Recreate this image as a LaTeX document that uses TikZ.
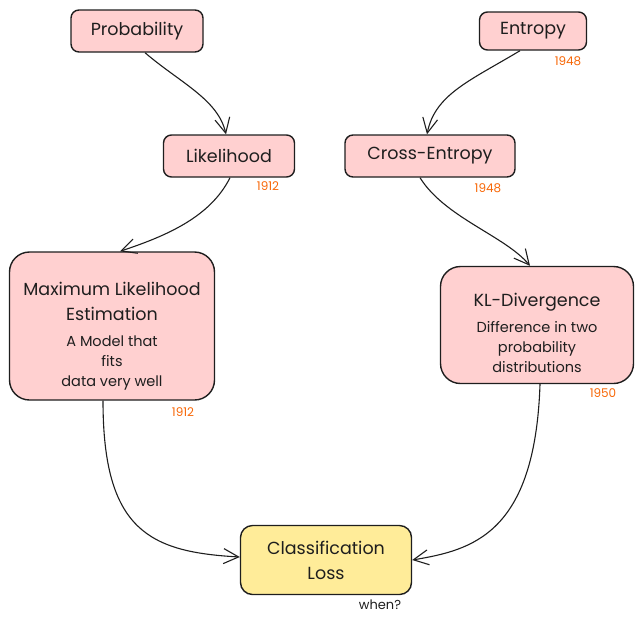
\documentclass[tikz,border=0pt]{standalone}
\usepackage{fontspec}
\setmainfont{Poppins}
\usetikzlibrary{arrows.meta}
\definecolor{ink}{HTML}{1E1E1E}
\definecolor{rosefill}{HTML}{FFD0D0}
\definecolor{sandfill}{HTML}{FFEC99}
\definecolor{yearorange}{HTML}{F76707}
\newcommand{\detail}{\fontsize{14.5}{20}\selectfont}

\begin{document}
\begin{tikzpicture}[
    x=1pt, y=-1pt,
    every node/.style={font=\fontsize{17.5}{25}\selectfont, text=ink},
    concept/.style={draw=ink, line width=1.4pt, rounded corners=8pt, fill=rosefill, align=center, minimum height=42pt, inner sep=2pt},
    bigconcept/.style={concept, rounded corners=20pt},
    target/.style={concept, fill=sandfill, rounded corners=12pt},
    year/.style={font=\fontsize{12}{14}\selectfont, text=yearorange},
    note/.style={font=\fontsize{13}{15}\selectfont},
    flow/.style={-{Straight Barb[length=15pt, width=15pt]}, line width=1.1pt, draw=ink}
]
\useasboundingbox (0,0) rectangle (644,625);

\node[concept, minimum width=132pt] (prob) at (137,31) {Probability};
\node[concept, minimum width=131pt] (lik) at (229,156) {Likelihood};
\node[concept, minimum width=107pt, minimum height=38pt] (ent) at (533,31) {Entropy};
\node[concept, minimum width=170pt] (xent) at (430,156) {Cross-Entropy};
\node[bigconcept, minimum width=205pt, minimum height=148pt, text height=124pt] (mle) at (112,326)
    {Maximum Likelihood\\Estimation\\[1pt]\detail A Model that\\[-5pt]\detail fits\\[-5pt]\detail data very well};
\node[bigconcept, minimum width=193pt, minimum height=117pt, text height=95pt] (kl) at (537,325)
    {KL-Divergence\\[1pt]\detail Difference in two\\[-5pt]\detail probability\\[-5pt]\detail distributions};
\node[target, minimum width=171pt, minimum height=69pt] (loss) at (326,560) {Classification\\Loss};

\node[year] (likyear) at (268,186) {1912};
\node[year] (entyear) at (568,61) {1948};
\node[year] (xentyear) at (488,188) {1948};
\node[year] (mleyear) at (183,412) {1912};
\node[year] (klyear) at (603,393) {1950};
\node[note] (when) at (380,605) {when?};

\draw[flow] ([xshift=8pt]prob.south) .. controls +(35,30) and +(-8,-35) .. ([xshift=-3pt]lik.north);
\draw[flow] ([xshift=1pt]lik.south) .. controls +(-20,40) and +(45,-15) .. ([xshift=8pt]mle.north);
\draw[flow] ([xshift=-13pt]ent.south) .. controls +(-50,30) and +(8,-40) .. ([xshift=-3pt]xent.north);
\draw[flow] ([xshift=-10pt]xent.south) .. controls +(25,40) and +(-25,-30) .. ([xshift=-7pt]kl.north);
\draw[flow] ([xshift=-9pt]mle.south) .. controls +(0,130) and +(-90,-5) .. ([yshift=3pt]loss.west);
\draw[flow] ([xshift=3pt]kl.south) .. controls +(-5,150) and +(60,-10) .. (loss.east);
\end{tikzpicture}
\end{document}
